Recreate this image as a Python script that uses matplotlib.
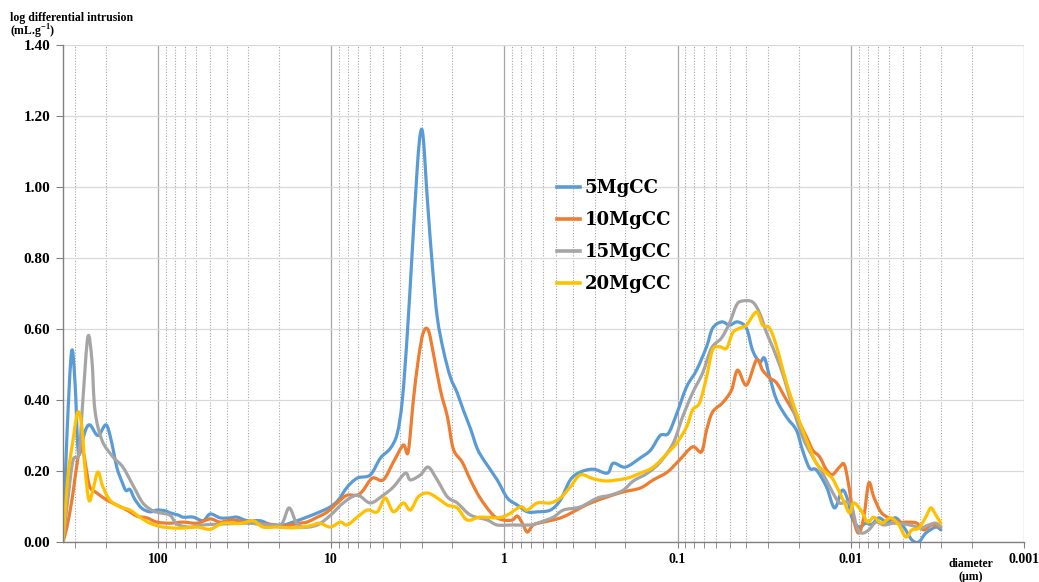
import numpy as np
import matplotlib
matplotlib.use("Agg")
import matplotlib.pyplot as plt
from matplotlib.path import Path
from matplotlib.patches import PathPatch
from matplotlib.lines import Line2D
from matplotlib.ticker import FixedLocator, LogLocator, NullFormatter, FuncFormatter

# pore diameter (um) and log differential intrusion (mL/g)
blue_d = [353, 335, 315, 301, 290, 282, 264, 247, 222, 199.5, 186.8, 172.5, 161.3, 153, 145, 135.8,
          123.8, 111.2, 101.3, 90.8, 84.9, 76.4, 71.5, 62.6, 54.8, 49.9, 43.7, 38.2, 34.9, 30.5, 25.7,
          22.5, 18.9, 16.6, 13.8, 11.6, 10.1, 9.09, 8.06, 7.06, 5.94, 5.20, 4.55, 4.15, 3.88, 3.63,
          3.40, 3.18, 3.05, 2.94, 2.78, 2.60, 2.44, 2.25, 2.05, 1.87, 1.72, 1.57, 1.43, 1.29, 1.10,
          0.961, 0.841, 0.737, 0.645, 0.542, 0.475, 0.416, 0.364, 0.306, 0.254, 0.235, 0.200, 0.164,
          0.143, 0.126, 0.113, 0.101, 0.0887, 0.0777, 0.0680, 0.0628, 0.0557, 0.0501, 0.0450, 0.0400,
          0.0369, 0.0336, 0.0315, 0.0294, 0.0268, 0.0235, 0.0206, 0.0190, 0.0173, 0.0158, 0.0138,
          0.0124, 0.0112, 0.0104, 0.00987, 0.00899, 0.00819, 0.00756, 0.00689, 0.00619, 0.00550,
          0.00494, 0.00444, 0.00405, 0.00369, 0.00323, 0.00302]
blue_v = [0.0, 0.30, 0.536, 0.45, 0.27, 0.25, 0.31, 0.33, 0.30, 0.33, 0.29, 0.21, 0.17, 0.145, 0.148,
          0.12, 0.095, 0.085, 0.09, 0.088, 0.082, 0.076, 0.07, 0.07, 0.06, 0.079, 0.068, 0.068, 0.07,
          0.06, 0.06, 0.05, 0.048, 0.056, 0.07, 0.085, 0.099, 0.118, 0.155, 0.18, 0.189, 0.236, 0.264,
          0.306, 0.40, 0.588, 0.82, 1.056, 1.152, 1.14, 0.963, 0.775, 0.634, 0.541, 0.465, 0.42, 0.37,
          0.32, 0.262, 0.225, 0.175, 0.124, 0.104, 0.085, 0.085, 0.09, 0.118, 0.175, 0.197, 0.205,
          0.194, 0.222, 0.211, 0.237, 0.259, 0.30, 0.306, 0.362, 0.437, 0.484, 0.55, 0.602, 0.62,
          0.611, 0.62, 0.602, 0.54, 0.507, 0.518, 0.465, 0.40, 0.352, 0.315, 0.259, 0.208, 0.203,
          0.155, 0.096, 0.146, 0.118, 0.07, 0.042, 0.053, 0.05, 0.068, 0.056, 0.068, 0.042, 0.006,
          0.0, 0.025, 0.042, 0.034]

orange_d = [353, 335, 313.5, 301, 282, 271, 260, 247, 225, 196.9, 172.5, 151, 132.2, 115.8, 101.3,
            84.9, 71.5, 59.3, 49.9, 43.7, 36.8, 29.3, 23.4, 18.9, 15.1, 13.8, 12.0, 10.5, 8.85, 8.06,
            7.06, 6.52, 5.78, 5.00, 4.37, 3.83, 3.59, 3.35, 3.14, 2.94, 2.75, 2.57, 2.34, 2.13, 1.97,
            1.75, 1.57, 1.38, 1.157, 1.013, 0.899, 0.841, 0.787, 0.737, 0.680, 0.595, 0.494, 0.433,
            0.364, 0.306, 0.254, 0.206, 0.164, 0.138, 0.1145, 0.0974, 0.0819, 0.0727, 0.0680, 0.0628,
            0.0550, 0.0488, 0.0450, 0.0400, 0.0350, 0.0323, 0.0294, 0.0268, 0.0235, 0.0206, 0.0180,
            0.0166, 0.01514, 0.0138, 0.01274, 0.01161, 0.01087, 0.01017, 0.00961, 0.00899, 0.00841,
            0.00787, 0.00737, 0.00671, 0.00604, 0.00528, 0.00463, 0.00416, 0.00379, 0.00341, 0.00302]
orange_v = [0.0, 0.042, 0.118, 0.18, 0.268, 0.26, 0.21, 0.155, 0.138, 0.118, 0.104, 0.09, 0.073,
            0.068, 0.056, 0.053, 0.056, 0.053, 0.065, 0.056, 0.062, 0.053, 0.05, 0.045, 0.053, 0.056,
            0.07, 0.085, 0.118, 0.132, 0.132, 0.146, 0.18, 0.175, 0.225, 0.273, 0.254, 0.40, 0.513,
            0.589, 0.597, 0.532, 0.428, 0.352, 0.262, 0.225, 0.175, 0.124, 0.075, 0.062, 0.062, 0.073,
            0.053, 0.028, 0.048, 0.056, 0.065, 0.076, 0.096, 0.113, 0.127, 0.141, 0.152, 0.175, 0.197,
            0.231, 0.268, 0.254, 0.315, 0.366, 0.392, 0.428, 0.484, 0.442, 0.513, 0.484, 0.462, 0.448,
            0.40, 0.352, 0.296, 0.259, 0.24, 0.203, 0.19, 0.211, 0.217, 0.146, 0.062, 0.025, 0.07,
            0.166, 0.127, 0.085, 0.068, 0.056, 0.056, 0.053, 0.034, 0.048, 0.042]

gray_d = [353, 331, 309, 285.6, 271, 253.6, 240.4, 231, 210.4, 181.9, 159.2, 139.4, 122.1, 106.9,
          96.9, 84.9, 77.4, 65.1, 54.8, 45.5, 36.8, 29.3, 23.4, 19.4, 17.5, 15.9, 14.5, 12.0, 10.1,
          8.51, 7.06, 5.94, 5.00, 4.37, 3.73, 3.49, 3.05, 2.75, 2.44, 2.13, 1.87, 1.57, 1.254, 1.10,
          0.887, 0.707, 0.619, 0.521, 0.456, 0.364, 0.290, 0.244, 0.206, 0.180, 0.149, 0.126, 0.1058,
          0.0936, 0.0819, 0.0717, 0.0637, 0.0557, 0.0501, 0.0456, 0.0421, 0.0369, 0.0336, 0.0306,
          0.0283, 0.0248, 0.0217, 0.0190, 0.0166, 0.01455, 0.01274, 0.01161, 0.01058, 0.00987,
          0.00923, 0.00864, 0.00787, 0.00717, 0.00645, 0.00565, 0.00481, 0.00433, 0.00394, 0.00355,
          0.00323, 0.00302]
gray_v = [0.0, 0.12, 0.23, 0.25, 0.40, 0.578, 0.513, 0.372, 0.287, 0.24, 0.211, 0.16, 0.11, 0.088,
          0.082, 0.075, 0.05, 0.042, 0.048, 0.05, 0.052, 0.053, 0.048, 0.05, 0.096, 0.055, 0.042,
          0.048, 0.075, 0.11, 0.132, 0.11, 0.132, 0.155, 0.194, 0.175, 0.189, 0.211, 0.175, 0.127,
          0.11, 0.076, 0.062, 0.048, 0.048, 0.048, 0.056, 0.07, 0.09, 0.099, 0.124, 0.132, 0.146,
          0.172, 0.194, 0.225, 0.279, 0.352, 0.42, 0.476, 0.546, 0.575, 0.617, 0.668, 0.679, 0.676,
          0.645, 0.589, 0.55, 0.476, 0.38, 0.296, 0.24, 0.194, 0.14, 0.11, 0.113, 0.099, 0.042,
          0.025, 0.034, 0.056, 0.048, 0.053, 0.05, 0.045, 0.039, 0.048, 0.053, 0.042]

yellow_d = [353, 331, 309, 290, 274.5, 264, 250, 237.2, 222, 207.6, 189.2, 165.6, 145, 127, 111.2,
            93.2, 74.3, 59.3, 49.9, 42.0, 33.5, 28.2, 24.7, 20.5, 17.2, 14.5, 12.7, 11.6, 10.1, 8.85,
            8.06, 7.06, 6.18, 5.41, 4.87, 4.37, 3.83, 3.49, 3.14, 2.78, 2.44, 2.13, 1.87, 1.64, 1.38,
            1.10, 0.961, 0.808, 0.737, 0.645, 0.542, 0.475, 0.416, 0.364, 0.306, 0.254, 0.195, 0.164,
            0.138, 0.1145, 0.101, 0.0887, 0.0819, 0.0746, 0.0680, 0.0628, 0.0572, 0.0521, 0.0481,
            0.0439, 0.0400, 0.0350, 0.0323, 0.0294, 0.0268, 0.0235, 0.0206, 0.0180, 0.0158, 0.0138,
            0.01274, 0.01161, 0.01087, 0.01017, 0.00961, 0.00876, 0.00798, 0.00737, 0.00662, 0.00588,
            0.00528, 0.00481, 0.00444, 0.00405, 0.00369, 0.00345, 0.00323, 0.00302]
yellow_v = [0.0, 0.183, 0.287, 0.366, 0.324, 0.211, 0.118, 0.146, 0.197, 0.155, 0.118, 0.099, 0.09,
            0.07, 0.053, 0.042, 0.039, 0.042, 0.036, 0.053, 0.052, 0.06, 0.042, 0.042, 0.04, 0.042,
            0.048, 0.053, 0.042, 0.056, 0.048, 0.07, 0.09, 0.085, 0.124, 0.085, 0.11, 0.09, 0.127,
            0.138, 0.124, 0.104, 0.096, 0.062, 0.07, 0.068, 0.076, 0.099, 0.09, 0.11, 0.11, 0.124,
            0.155, 0.189, 0.178, 0.172, 0.18, 0.194, 0.211, 0.25, 0.279, 0.324, 0.372, 0.392, 0.465,
            0.541, 0.55, 0.546, 0.589, 0.602, 0.611, 0.648, 0.611, 0.602, 0.55, 0.448, 0.363, 0.287,
            0.222, 0.194, 0.178, 0.14, 0.11, 0.082, 0.11, 0.09, 0.056, 0.07, 0.053, 0.068, 0.048,
            0.014, 0.034, 0.039, 0.07, 0.096, 0.076, 0.053]

labels = ["5MgCC", "10MgCC", "15MgCC", "20MgCC"]
colors = ["#5B9BD5", "#ED7D31", "#A5A5A5", "#FFC000"]
x_ticks = [100, 10, 1, 0.1, 0.01, 0.001]
x_ticklabels = ["100", "10", "1", "0.1", "0.01", "0.001"]
y_ticks = [0.0, 0.2, 0.4, 0.6, 0.8, 1.0, 1.2, 1.4]

serif = "Liberation Serif"
plt.rcParams["mathtext.fontset"] = "custom"
plt.rcParams["mathtext.rm"] = serif + ":bold"
plt.rcParams["mathtext.bf"] = serif + ":bold"


def smooth_path(d, v):
    """Excel-like smoothed line: Catmull-Rom through the points, as cubic Bezier in log-x."""
    lx = np.log10(d)
    v = np.asarray(v, dtype=float)
    n = len(lx)
    verts = [(lx[0], v[0])]
    codes = [Path.MOVETO]
    for i in range(n - 1):
        a = max(i - 1, 0)
        b = min(i + 2, n - 1)
        c1 = (lx[i] + (lx[i + 1] - lx[a]) / 6, v[i] + (v[i + 1] - v[a]) / 6)
        c2 = (lx[i + 1] - (lx[b] - lx[i]) / 6, v[i + 1] - (v[b] - v[i]) / 6)
        verts += [c1, c2, (lx[i + 1], v[i + 1])]
        codes += [Path.CURVE4] * 3
    verts = np.array(verts)
    verts[:, 0] = 10 ** verts[:, 0]
    return Path(verts, codes)


fig = plt.figure(figsize=(10.39, 5.82), dpi=100)
ax = fig.add_axes([63 / 1039, 1 - 542 / 582, (1024 - 63) / 1039, (542 - 45) / 582])

series = [(blue_d, blue_v), (orange_d, orange_v), (gray_d, gray_v), (yellow_d, yellow_v)]
handles = []
for (d, v), lab, c in zip(series, labels, colors):
    ax.add_patch(PathPatch(smooth_path(d, v), facecolor="none", edgecolor=c, lw=2.3,
                           joinstyle="round", capstyle="round", clip_on=True))
    handles.append(Line2D([], [], color=c, lw=2.6, label=lab))

ax.set_xscale("log")
ax.set_xlim(353, 0.001)
ax.set_ylim(0, 1.4)

ax.xaxis.set_major_locator(FixedLocator(x_ticks))
ax.xaxis.set_major_formatter(FuncFormatter(lambda val, pos: x_ticklabels[x_ticks.index(val)] if val in x_ticks else ""))
ax.xaxis.set_minor_locator(LogLocator(base=10, subs=range(2, 10), numticks=20))
ax.xaxis.set_minor_formatter(NullFormatter())
ax.yaxis.set_major_locator(FixedLocator(y_ticks))
ax.yaxis.set_major_formatter(FuncFormatter(lambda val, pos: f"{val:.2f}"))

ax.grid(axis="y", which="major", color="#d9d9d9", lw=0.9, ls="-")
ax.grid(axis="x", which="major", color="#a6a6a6", lw=0.9, ls="-")
ax.grid(axis="x", which="minor", color="#a6a6a6", lw=0.8, ls=(0, (1, 1.5)))
ax.set_axisbelow(True)

for s in ["top", "right"]:
    ax.spines[s].set_visible(False)
for s in ["left", "bottom"]:
    ax.spines[s].set_color("#808080")
    ax.spines[s].set_linewidth(1.0)

ax.tick_params(axis="x", which="both", direction="out", length=4, color="#808080", pad=4)
ax.tick_params(axis="y", which="major", direction="out", length=5, color="#808080", pad=4)
for t in ax.get_xticklabels():
    t.set_fontfamily(serif)
    t.set_fontweight("bold")
    t.set_fontsize(10)
for t in ax.get_yticklabels():
    t.set_fontfamily(serif)
    t.set_fontweight("bold")
    t.set_fontsize(11)

fig.text(10 / 1039, 1 - 18 / 582, "log differential intrusion", family=serif, weight="bold",
         fontsize=8.5, ha="left", va="center")
fig.text(10 / 1039, 1 - 32 / 582, r"(mL.g$^{-1}$)", family=serif, weight="bold",
         fontsize=8.5, ha="left", va="center")
fig.text(971 / 1039, 1 - 564 / 582, "diameter", family=serif, weight="bold",
         fontsize=8.5, ha="center", va="center")
fig.text(971 / 1039, 1 - 577 / 582, "(µm)", family=serif, weight="bold",
         fontsize=8.5, ha="center", va="center")

ax.legend(handles=handles, loc="upper left", bbox_to_anchor=(0.497, 0.763), frameon=False,
          handlelength=1.3, handletextpad=0.25, labelspacing=0.78,
          prop={"family": "DejaVu Serif", "weight": "bold", "size": 13})

fig.savefig("out.png", dpi=100)
